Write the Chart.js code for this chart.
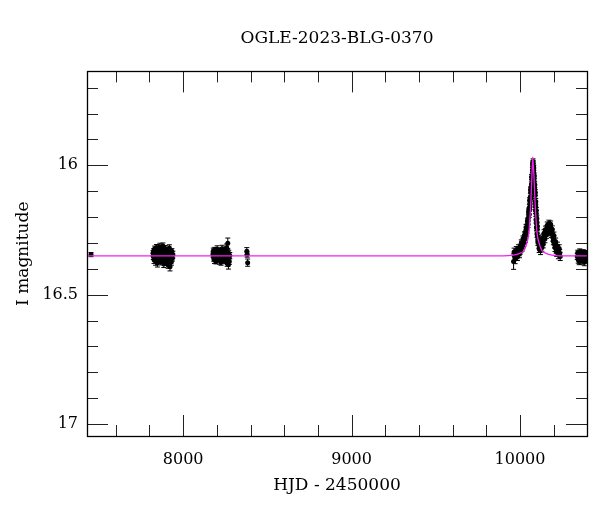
<!DOCTYPE html>
<html>
<head>
<meta charset="utf-8">
<title>OGLE-2023-BLG-0370</title>
<script src="https://cdn.jsdelivr.net/npm/chart.js@4"></script>
<style>
  html, body { margin: 0; padding: 0; background: #fff; }
  canvas { display: block; }
</style>
</head>
<body>
<canvas id="lc" width="600" height="512"></canvas>
<script>
// photometry (HJD - 2450000, I mag, error)
const hjd2016 = [7453];
const mag2016 = [16.345];
const err2016 = [0.008];

const hjd2017 = [7821, 7823, 7825, 7827, 7829, 7831, 7834, 7836, 7838, 7840,
  7842, 7845, 7847, 7849, 7851, 7853, 7856, 7858, 7860, 7862,
  7865, 7867, 7869, 7871, 7874, 7876, 7878, 7880, 7883, 7885,
  7887, 7890, 7892, 7894, 7897, 7899, 7901, 7904, 7906, 7908,
  7911, 7913, 7915, 7918, 7920, 7922, 7925, 7927, 7930, 7933, 7936, 7939];
const mag2017 = [16.340, 16.352, 16.331, 16.365, 16.344, 16.322, 16.358, 16.371, 16.336, 16.349,
  16.318, 16.362, 16.377, 16.341, 16.328, 16.355, 16.368, 16.334, 16.347, 16.315,
  16.359, 16.373, 16.338, 16.351, 16.325, 16.364, 16.342, 16.312, 16.356, 16.381,
  16.333, 16.346, 16.369, 16.321, 16.353, 16.338, 16.375, 16.329, 16.361, 16.344,
  16.386, 16.337, 16.357, 16.319, 16.366, 16.392, 16.343, 16.350, 16.374, 16.332, 16.359, 16.345];
const err2017 = [0.010, 0.012, 0.009, 0.014, 0.011, 0.010, 0.013, 0.015, 0.009, 0.011,
  0.012, 0.010, 0.016, 0.011, 0.009, 0.013, 0.012, 0.010, 0.011, 0.014,
  0.010, 0.012, 0.009, 0.011, 0.013, 0.010, 0.018, 0.012, 0.011, 0.014,
  0.010, 0.009, 0.012, 0.011, 0.013, 0.010, 0.012, 0.011, 0.009, 0.013,
  0.012, 0.010, 0.011, 0.012, 0.010, 0.016, 0.011, 0.009, 0.012, 0.010, 0.011, 0.013];

const hjd2018 = [8177, 8179, 8181, 8184, 8186, 8188, 8190, 8193, 8195, 8197,
  8200, 8202, 8204, 8207, 8209, 8211, 8214, 8216, 8218, 8221,
  8223, 8225, 8228, 8231, 8234, 8237, 8240, 8243, 8246, 8249,
  8252, 8255, 8258, 8261, 8263, 8265, 8267, 8269, 8271, 8274, 8277,
  8378, 8380, 8383];
const mag2018 = [16.345, 16.331, 16.358, 16.339, 16.366, 16.327, 16.352, 16.343, 16.371, 16.335,
  16.349, 16.324, 16.361, 16.338, 16.355, 16.346, 16.329, 16.368, 16.341, 16.357,
  16.333, 16.375, 16.347, 16.322, 16.359, 16.338, 16.364, 16.351, 16.328, 16.369,
  16.342, 16.356, 16.318, 16.378, 16.336, 16.301, 16.362, 16.384, 16.340, 16.372, 16.349,
  16.332, 16.345, 16.376];
const err2018 = [0.010, 0.011, 0.012, 0.009, 0.013, 0.010, 0.011, 0.012, 0.010, 0.009,
  0.011, 0.013, 0.010, 0.012, 0.009, 0.011, 0.010, 0.014, 0.011, 0.010,
  0.012, 0.011, 0.009, 0.013, 0.010, 0.012, 0.011, 0.010, 0.012, 0.011,
  0.013, 0.010, 0.014, 0.012, 0.011, 0.020, 0.013, 0.017, 0.012, 0.011, 0.012,
  0.014, 0.010, 0.014];

// 2023 season, the event (two passes over the blob)
const hjd2023 = [9962, 9968, 9975, 9982, 9988, 9994, 10000, 10005, 10010, 10015,
  10020, 10025, 10030, 10034, 10038, 10042, 10046, 10050, 10053, 10056,
  10059, 10062, 10065, 10068, 10071, 10074, 10077, 10079, 10081, 10084,
  10087, 10090, 10093, 10096, 10099, 10102, 10105, 10108, 10112, 10116,
  10120, 10124, 10128, 10132, 10136, 10140, 10145, 10150, 10155, 10160,
  10165, 10170, 10175, 10180, 10185, 10190, 10195, 10200, 10205, 10210,
  10215, 10220, 10225, 10230, 10236,
  9965, 9971, 9978, 9985, 9991, 9997, 10002, 10008, 10012, 10018,
  10022, 10027, 10032, 10036, 10040, 10044, 10048, 10051, 10055, 10058,
  10060, 10063, 10066, 10069, 10072, 10075, 10076, 10078, 10080, 10082,
  10083, 10085, 10086, 10088, 10089, 10091, 10092, 10094, 10095, 10097,
  10098, 10100, 10101, 10103, 10106, 10110, 10114, 10118, 10122, 10126,
  10130, 10134, 10138, 10143, 10148, 10152, 10158, 10162, 10168, 10172,
  10178, 10182, 10188, 10192, 10198, 10202, 10208, 10212, 10218, 10222,
  10228, 10233, 10239];
const mag2023 = [16.372, 16.352, 16.341, 16.346, 16.331, 16.336, 16.318, 16.324, 16.305, 16.309,
  16.292, 16.286, 16.268, 16.262, 16.248, 16.241, 16.219, 16.203, 16.176, 16.163,
  16.138, 16.121, 16.092, 16.074, 16.046, 16.018, 15.992, 16.004, 16.028, 16.052,
  16.088, 16.117, 16.158, 16.186, 16.224, 16.246, 16.275, 16.288, 16.307, 16.314,
  16.321, 16.311, 16.306, 16.295, 16.291, 16.278, 16.272, 16.259, 16.257, 16.246,
  16.249, 16.237, 16.242, 16.238, 16.254, 16.259, 16.279, 16.286, 16.305, 16.308,
  16.324, 16.322, 16.334, 16.331, 16.340,
  16.335, 16.362, 16.328, 16.352, 16.320, 16.342, 16.330, 16.300, 16.318, 16.285,
  16.300, 16.270, 16.285, 16.240, 16.262, 16.215, 16.228, 16.180, 16.190, 16.135,
  16.160, 16.095, 16.120, 16.045, 16.070, 15.998, 16.030, 15.985, 16.030, 16.010,
  16.070, 16.040, 16.100, 16.075, 16.140, 16.105, 16.175, 16.140, 16.210, 16.175,
  16.240, 16.205, 16.265, 16.235, 16.295, 16.285, 16.322, 16.300, 16.330, 16.298,
  16.318, 16.282, 16.305, 16.262, 16.285, 16.248, 16.268, 16.232, 16.258, 16.225,
  16.250, 16.228, 16.265, 16.248, 16.292, 16.272, 16.318, 16.295, 16.336, 16.312,
  16.345, 16.322, 16.352];
const err2023 = [0.030, 0.016, 0.014, 0.015, 0.013, 0.014, 0.013, 0.013, 0.012, 0.013,
  0.012, 0.012, 0.012, 0.012, 0.012, 0.012, 0.012, 0.011, 0.011, 0.011,
  0.011, 0.011, 0.010, 0.010, 0.010, 0.010, 0.010, 0.010, 0.010, 0.010,
  0.011, 0.011, 0.011, 0.012, 0.012, 0.012, 0.013, 0.013, 0.013, 0.014,
  0.014, 0.013, 0.013, 0.013, 0.013, 0.013, 0.013, 0.013, 0.013, 0.013,
  0.012, 0.013, 0.013, 0.013, 0.013, 0.013, 0.014, 0.014, 0.014, 0.014,
  0.015, 0.015, 0.015, 0.015, 0.015,
  0.015, 0.018, 0.014, 0.016, 0.013, 0.015, 0.013, 0.012, 0.014, 0.012,
  0.013, 0.012, 0.013, 0.012, 0.013, 0.011, 0.012, 0.011, 0.012, 0.011,
  0.011, 0.010, 0.011, 0.010, 0.011, 0.010, 0.010, 0.010, 0.011, 0.010,
  0.011, 0.010, 0.011, 0.011, 0.012, 0.011, 0.012, 0.012, 0.013, 0.012,
  0.013, 0.012, 0.013, 0.013, 0.014, 0.013, 0.015, 0.014, 0.015, 0.014,
  0.014, 0.013, 0.014, 0.013, 0.014, 0.013, 0.014, 0.013, 0.014, 0.013,
  0.014, 0.013, 0.014, 0.014, 0.015, 0.014, 0.015, 0.014, 0.016, 0.015,
  0.016, 0.015, 0.016];

const hjd2024 = [10340, 10343, 10346, 10349, 10352, 10355, 10358, 10361, 10364, 10367,
  10370, 10373, 10376, 10379, 10382, 10385, 10388, 10391, 10394, 10397];
const mag2024 = [16.352, 16.338, 16.365, 16.345, 16.372, 16.333, 16.358, 16.348, 16.368, 16.340,
  16.355, 16.362, 16.336, 16.350, 16.375, 16.344, 16.357, 16.341, 16.366, 16.350];
const err2024 = [0.012, 0.010, 0.013, 0.011, 0.012, 0.010, 0.011, 0.012, 0.014, 0.010,
  0.011, 0.012, 0.010, 0.011, 0.013, 0.010, 0.011, 0.012, 0.012, 0.011];

// single-lens model curve (magenta)
const modelHjd = [7429, 9900, 9960, 9999, 10023, 10041, 10053, 10059, 10065, 10071,
  10074, 10076, 10078, 10083, 10089, 10095, 10101, 10113, 10131, 10155, 10190, 10238, 10398];
const modelMag = [16.350, 16.350, 16.347, 16.340, 16.330, 16.300, 16.260, 16.205, 16.135, 16.040,
  15.990, 15.968, 15.990, 16.040, 16.135, 16.205, 16.260, 16.300, 16.330, 16.340, 16.347, 16.350, 16.350];

// axes
const xMajorTicks = [8000, 9000, 10000];
const xMinorTicks = [7600, 7800, 8200, 8400, 8600, 8800, 9200, 9400, 9600, 9800, 10200];
const yMajorTicks = [16, 16.5, 17];
const yMinorTicks = [15.7, 15.8, 15.9, 16.1, 16.2, 16.3, 16.4, 16.6, 16.7, 16.8, 16.9];

const serif = "'DejaVu Serif', 'Liberation Serif', serif";
Chart.defaults.font.family = serif;
Chart.defaults.color = "#000";

function points(hjd, mag, err) {
  return hjd.map((t, i) => ({ x: t, y: mag[i], e: err[i] || 0.012 }));
}

const obs = [].concat(
  points(hjd2016, mag2016, err2016),
  points(hjd2017, mag2017, err2017),
  points(hjd2018, mag2018, err2018),
  points(hjd2023, mag2023, err2023),
  points(hjd2024, mag2024, err2024)
);
const model = modelHjd.map((t, i) => ({ x: t, y: modelMag[i] }));

// vertical error bars with little caps
const errorBars = {
  id: "errorBars",
  beforeDatasetsDraw(chart) {
    const { ctx, chartArea: a, scales: { x, y } } = chart;
    ctx.save();
    ctx.beginPath();
    ctx.rect(a.left, a.top, a.width, a.height);
    ctx.clip();
    ctx.strokeStyle = "#000";
    ctx.lineWidth = 1;
    ctx.beginPath();
    obs.forEach(p => {
      const px = x.getPixelForValue(p.x);
      const y1 = y.getPixelForValue(p.y - p.e);
      const y2 = y.getPixelForValue(p.y + p.e);
      ctx.moveTo(px, y1); ctx.lineTo(px, y2);
      ctx.moveTo(px - 2.5, y1); ctx.lineTo(px + 2.5, y1);
      ctx.moveTo(px - 2.5, y2); ctx.lineTo(px + 2.5, y2);
    });
    ctx.stroke();
    ctx.restore();
  }
};

// box round the plot, ticks pointing inwards on all four sides
const frameTicks = {
  id: "frameTicks",
  afterDraw(chart) {
    const { ctx, chartArea: a, scales: { x, y } } = chart;
    ctx.save();
    ctx.strokeStyle = "#222";
    ctx.lineWidth = 1;
    ctx.beginPath();
    const xt = (v, len) => {
      const px = Math.round(x.getPixelForValue(v)) + 0.5;
      ctx.moveTo(px, a.bottom); ctx.lineTo(px, a.bottom - len);
      ctx.moveTo(px, a.top); ctx.lineTo(px, a.top + len);
    };
    const yt = (v, len) => {
      const py = Math.round(y.getPixelForValue(v)) + 0.5;
      ctx.moveTo(a.left, py); ctx.lineTo(a.left + len, py);
      ctx.moveTo(a.right, py); ctx.lineTo(a.right - len, py);
    };
    xMajorTicks.forEach(v => xt(v, 21));
    xMinorTicks.forEach(v => xt(v, 11));
    yMajorTicks.forEach(v => yt(v, 21));
    yMinorTicks.forEach(v => yt(v, 11));
    ctx.stroke();
    ctx.strokeStyle = "#000";
    ctx.lineWidth = 1.3;
    ctx.strokeRect(Math.round(a.left) + 0.5, Math.round(a.top) + 0.5,
      Math.round(a.width), Math.round(a.height));
    ctx.restore();
  }
};

new Chart(document.getElementById("lc").getContext("2d"), {
  type: "scatter",
  data: {
    datasets: [
      {
        label: "model",
        data: model,
        showLine: true,
        borderColor: "#ee22ee",
        borderWidth: 1.3,
        pointRadius: 0,
        cubicInterpolationMode: "monotone",
        order: 0
      },
      {
        label: "OGLE I",
        data: obs,
        pointRadius: 2.5,
        pointBackgroundColor: "#000",
        pointBorderWidth: 0,
        order: 1
      }
    ]
  },
  options: {
    responsive: false,
    animation: false,
    layout: { padding: { left: 0, right: 13, top: 0, bottom: 0 } },
    plugins: {
      legend: { display: false },
      tooltip: { enabled: false },
      title: {
        display: true,
        fullSize: false,
        text: "OGLE-2023-BLG-0370",
        color: "#000",
        font: { family: serif, size: 17, weight: "normal" },
        padding: { top: 28, bottom: 23 }
      }
    },
    scales: {
      x: {
        type: "linear",
        min: 7429,
        max: 10398,
        afterBuildTicks(s) { s.ticks = xMajorTicks.map(v => ({ value: v })); },
        afterFit(s) { s.height = 76; },
        grid: { display: false, drawTicks: false },
        border: { display: false },
        ticks: {
          autoSkip: false,
          maxRotation: 0,
          padding: 14,
          color: "#000",
          font: { size: 16 },
          callback: v => String(v)
        },
        title: {
          display: true,
          text: "HJD - 2450000",
          color: "#000",
          font: { size: 17 },
          padding: { top: 0, bottom: 16 }
        }
      },
      y: {
        type: "linear",
        reverse: true,
        min: 15.637,
        max: 17.046,
        afterBuildTicks(s) { s.ticks = yMajorTicks.map(v => ({ value: v })); },
        afterFit(s) { s.width = 87; },
        grid: { display: false, drawTicks: false },
        border: { display: false },
        ticks: {
          autoSkip: false,
          padding: 9,
          color: "#000",
          font: { size: 16 },
          callback: v => String(v)
        },
        title: {
          display: true,
          text: "I magnitude",
          color: "#000",
          font: { size: 17 },
          padding: { top: 13, bottom: 0 }
        }
      }
    }
  },
  plugins: [errorBars, frameTicks]
});
</script>
</body>
</html>
